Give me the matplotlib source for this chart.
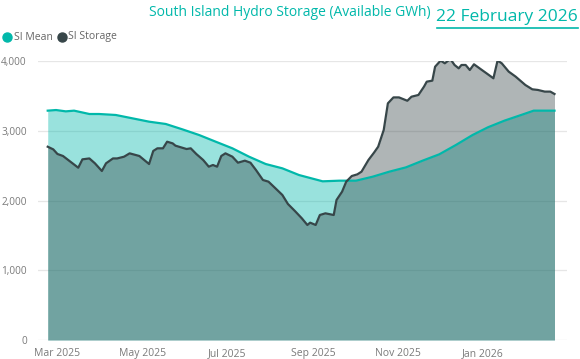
import matplotlib
matplotlib.use("Agg")
import matplotlib.pyplot as plt
import matplotlib.dates as mdates
import pandas as pd

# SI mean storage (GWh)
mean_dates = ["2025-02-22", "2025-02-28", "2025-03-07", "2025-03-13", "2025-03-24",
              "2025-03-31", "2025-04-12", "2025-04-24", "2025-05-06", "2025-05-18",
              "2025-05-30", "2025-06-11", "2025-06-23", "2025-07-05", "2025-07-17",
              "2025-07-29", "2025-08-10", "2025-08-22", "2025-09-08", "2025-09-20",
              "2025-10-02", "2025-10-14", "2025-10-26", "2025-11-07", "2025-11-19",
              "2025-12-01", "2025-12-13", "2025-12-25", "2026-01-05", "2026-01-17",
              "2026-01-29", "2026-02-07", "2026-02-22"]
mean_vals = [3288, 3297, 3278, 3288, 3240, 3240, 3226, 3178, 3130, 3097,
             3020, 2939, 2843, 2748, 2628, 2523, 2461, 2365, 2275, 2284,
             2284, 2341, 2413, 2475, 2571, 2662, 2796, 2939, 3049, 3145,
             3226, 3288, 3288]

# SI actual storage (GWh)
storage_dates = ["2025-02-22", "2025-02-26", "2025-03-01", "2025-03-05", "2025-03-16",
                 "2025-03-19", "2025-03-24", "2025-03-28", "2025-04-02", "2025-04-05",
                 "2025-04-10", "2025-04-13", "2025-04-18", "2025-04-22", "2025-04-29",
                 "2025-05-06", "2025-05-09", "2025-05-12", "2025-05-16", "2025-05-19",
                 "2025-05-23", "2025-05-25", "2025-05-29", "2025-06-02", "2025-06-05",
                 "2025-06-09", "2025-06-14", "2025-06-18", "2025-06-21", "2025-06-24",
                 "2025-06-27", "2025-06-30", "2025-07-05", "2025-07-09", "2025-07-14",
                 "2025-07-18", "2025-07-22", "2025-07-27", "2025-07-31", "2025-08-05",
                 "2025-08-10", "2025-08-14", "2025-08-19", "2025-08-24", "2025-08-28",
                 "2025-08-30", "2025-09-03", "2025-09-06", "2025-09-10", "2025-09-16",
                 "2025-09-18", "2025-09-22", "2025-09-25", "2025-09-29", "2025-10-03",
                 "2025-10-06", "2025-10-11", "2025-10-15", "2025-10-18", "2025-10-22",
                 "2025-10-25", "2025-10-29", "2025-11-02", "2025-11-08", "2025-11-11",
                 "2025-11-16", "2025-11-20", "2025-11-22", "2025-11-26", "2025-11-28",
                 "2025-12-02", "2025-12-05", "2025-12-09", "2025-12-12", "2025-12-15",
                 "2025-12-17", "2025-12-20", "2025-12-23", "2025-12-26", "2025-12-31",
                 "2026-01-04", "2026-01-09", "2026-01-12", "2026-01-15", "2026-01-20",
                 "2026-01-25", "2026-02-01", "2026-02-06", "2026-02-10", "2026-02-15",
                 "2026-02-19", "2026-02-22"]
storage_vals = [2771, 2733, 2667, 2638, 2470, 2590, 2603, 2533, 2423, 2533,
                2603, 2603, 2628, 2676, 2638, 2523, 2710, 2748, 2748, 2843,
                2819, 2786, 2762, 2738, 2748, 2667, 2580, 2485, 2509, 2485,
                2638, 2676, 2628, 2542, 2571, 2542, 2437, 2294, 2270, 2175,
                2079, 1950, 1850, 1745, 1649, 1682, 1649, 1792, 1816, 1792,
                2007, 2126, 2270, 2351, 2375, 2413, 2581, 2686, 2771, 3011,
                3393, 3478, 3478, 3430, 3488, 3513, 3632, 3704, 3718, 3918,
                4006, 3967, 4029, 3943, 3895, 3943, 3943, 3871, 3953, 3881,
                3824, 3752, 4006, 3967, 3848, 3776, 3656, 3594, 3585, 3561,
                3561, 3527]

yticks = [0, 1000, 2000, 3000, 4000]
xticks = ["2025-03-01", "2025-05-01", "2025-07-01", "2025-09-01", "2025-11-01", "2026-01-01"]

TEAL = "#01B8AA"
DARK = "#374649"
GREY_TXT = "#7a7a7a"

W, H = 580, 359
fig = plt.figure(figsize=(W / 100, H / 100), dpi=100)
ax = fig.add_axes([38 / W, 1 - 340 / H, (567 - 38) / W, (340 - 61) / H])

md = pd.to_datetime(mean_dates)
sd = pd.to_datetime(storage_dates)

ax.fill_between(md, mean_vals, 0, color=TEAL, alpha=0.4, lw=0)
ax.fill_between(sd, storage_vals, 0, color=DARK, alpha=0.4, lw=0)
ax.plot(md, mean_vals, color=TEAL, lw=1.6, solid_joinstyle="round")
ax.plot(sd, storage_vals, color=DARK, lw=1.6, solid_joinstyle="round")

ax.set_ylim(0, 4000)
ax.set_xlim(pd.Timestamp("2025-02-15"), pd.Timestamp("2026-03-03"))
ax.set_yticks(yticks)
ax.set_yticklabels([f"{v:,}" for v in yticks])
ax.set_xticks(pd.to_datetime(xticks))
ax.xaxis.set_major_formatter(mdates.DateFormatter("%b %Y"))

ax.grid(axis="y", color="#E6E6E6", lw=0.9)
ax.set_axisbelow(True)
for s in ax.spines.values():
    s.set_visible(False)
ax.tick_params(length=0, labelsize=7.5, colors=GREY_TXT, pad=6)
ax.tick_params(axis="y", labelsize=7.2, pad=8)
for lab in ax.get_xticklabels() + ax.get_yticklabels():
    lab.set_family("Open Sans")

# title, date and legend
fig.text(290 / W, 1 - 12 / H, "South Island Hydro Storage (Available GWh)",
         color=TEAL, fontsize=10, family="Open Sans", ha="center", va="center")
fig.text(578 / W, 1 - 17 / H, "22 February 2026", color=TEAL, fontsize=12.5,
         family="Open Sans", ha="right", va="center")
fig.add_artist(plt.Line2D([437 / W, 578 / W], [1 - 28 / H, 1 - 28 / H],
                          color=TEAL, lw=1.2, transform=fig.transFigure))

fig.add_artist(plt.Line2D([7 / W], [1 - 37 / H], marker="o", ms=6.5, color=TEAL,
                          transform=fig.transFigure))
fig.text(14 / W, 1 - 37 / H, "SI Mean", color="#666666", fontsize=7.5,
         family="Open Sans", va="center")
fig.add_artist(plt.Line2D([62 / W], [1 - 37 / H], marker="o", ms=6.5, color=DARK,
                          transform=fig.transFigure))
fig.text(68 / W, 1 - 37 / H, "SI Storage", color="#666666", fontsize=7.5,
         family="Open Sans", va="center")

fig.savefig("out.png", dpi=100)
